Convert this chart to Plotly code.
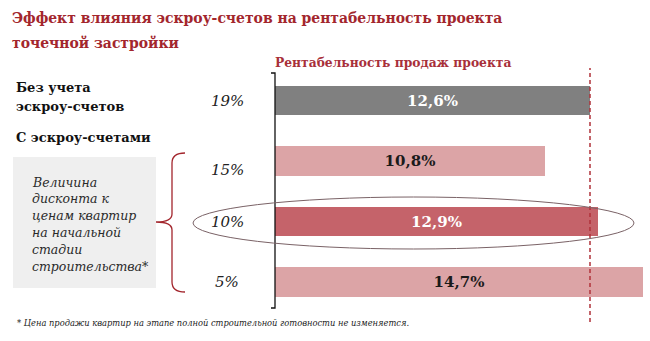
import plotly.graph_objects as go

# ---- data ----
categories = ["19%", "15%", "10%", "5%"]
values = [12.6, 10.8, 12.9, 14.7]
value_labels = ["12,6%", "10,8%", "12,9%", "14,7%"]
bar_colors = ["#808080", "#dca4a6", "#c5636a", "#dca4a6"]
text_colors = ["white", "#1a1a1a", "white", "#1a1a1a"]
reference_value = 12.6

W, H = 650, 341
SERIF = "DejaVu Serif"
SERIF_C = "DejaVu Serif Condensed, DejaVu Serif"
RED = "#a3262d"

def py(p):
    return 1 - p / H

def px(p):
    return p / W

fig = go.Figure()
fig.add_trace(go.Bar(
    y=categories, x=values, orientation="h",
    marker=dict(color=bar_colors, line=dict(width=0)),
    width=0.48,
    text=[f"<b>{t}</b>" for t in value_labels], textposition="inside", insidetextanchor="middle",
    textfont=dict(family=SERIF, size=15, color=text_colors),
    textangle=0,
    hoverinfo="skip",
))

y_top = -100.5 / 60.5
y_bot = (H - 100.5) / 60.5
fig.update_layout(
    width=W, height=H,
    margin=dict(l=0, r=0, t=0, b=0),
    paper_bgcolor="white", plot_bgcolor="rgba(0,0,0,0)",
    showlegend=False,
    bargap=0,
    xaxis=dict(domain=[275 / W, 1], range=[0, (W - 275) / 25], visible=False, fixedrange=True),
    yaxis=dict(type="category", categoryorder="array", categoryarray=categories,
               range=[y_bot, y_top], visible=False, fixedrange=True),
)

shapes = []
shapes.append(dict(type="rect", xref="paper", yref="paper", x0=px(13), x1=px(156), y0=py(288), y1=py(157),
                   fillcolor="#efefef", line=dict(width=0), layer="below"))
shapes.append(dict(type="path", xref="paper", yref="paper",
                   path=f"M {px(271)} {py(73)} L {px(275)} {py(73)} L {px(275)} {py(308)} L {px(271)} {py(308)}",
                   line=dict(color="#111111", width=1.3)))
shapes.append(dict(type="line", xref="x", yref="paper", x0=reference_value, x1=reference_value,
                   y0=py(322), y1=py(68), line=dict(color="#b0323a", width=1.5, dash="4px,3px")))
shapes.append(dict(type="circle", xref="paper", yref="paper", x0=px(193), x1=px(634), y0=py(249), y1=py(197),
                   line=dict(color="#7a6266", width=1)))
bx, by0, by1, bm = 172, 153, 292, 222
brace = (f"M {px(185)} {py(by0)} Q {px(bx)} {py(by0)} {px(bx)} {py(by0+10)} "
         f"L {px(bx)} {py(bm-8)} Q {px(bx)} {py(bm)} {px(156)} {py(bm)} "
         f"Q {px(bx)} {py(bm)} {px(bx)} {py(bm+8)} "
         f"L {px(bx)} {py(by1-10)} Q {px(bx)} {py(by1)} {px(185)} {py(by1)}")
shapes.append(dict(type="path", xref="paper", yref="paper", path=brace, line=dict(color=RED, width=1.3)))
fig.update_layout(shapes=shapes)

ann = []
def text(x, y, s, size, color="#111111", bold=False, italic=False, xanchor="left", yanchor="middle", family=SERIF):
    if bold:
        s = f"<b>{s}</b>"
    if italic:
        s = f"<i>{s}</i>"
    ann.append(dict(xref="paper", yref="paper", x=px(x), y=py(y), text=s, showarrow=False,
                    xanchor=xanchor, yanchor=yanchor, align="left",
                    font=dict(family=family, size=size, color=color)))

text(10, 18, "Эффект влияния эскроу-счетов на рентабельность проекта", 15.5, RED, bold=True, family=SERIF_C)
text(10, 42, "точечной застройки", 15.5, RED, bold=True, family=SERIF_C)
text(273, 62, "Рентабельность продаж проекта", 12.3, "#a8303a", bold=True)
text(14, 87, "Без учета", 13, bold=True)
text(14, 107, "эскроу-счетов", 13, bold=True)
text(14, 137, "С эскроу-счетами", 13, bold=True)
box_lines = ["Величина", "дисконта к", "ценам квартир", "на начальной", "стадии", "строительства*"]
for i, s in enumerate(box_lines):
    text(30, 182 + i * 16.8, s, 12.5, "#2a2a2a", italic=True)
text(15, 323, "* Цена продажи квартир на этапе полной строительной готовности не изменяется.", 8.3, "#222222", italic=True)

shifts = [0, -9, 0, 0]
for c, s in zip(categories, shifts):
    ann.append(dict(xref="paper", yref="y", x=px(227), y=c, yshift=s, text=f"<i>{c}</i>", showarrow=False,
                    xanchor="center", yanchor="middle", font=dict(family=SERIF, size=15, color="#222222")))
fig.update_layout(annotations=ann)

fig.write_html("out.html")
